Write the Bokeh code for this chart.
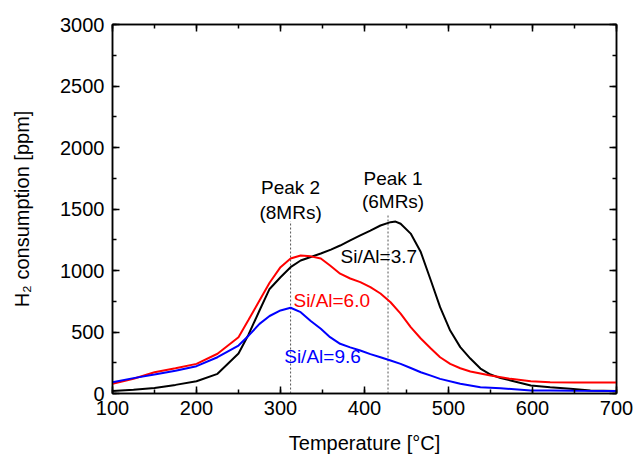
from bokeh.plotting import figure
from bokeh.models import Range1d, LinearAxis, SingleIntervalTicker, Label
from bokeh.embed import file_html
from bokeh.resources import INLINE

# Data
t_black = [100,125,150,175,200,225,250,262,275,287,300,312,324,336,348,360,371,383,395,407,419,431,437,443,455,467,479,490,502,514,526,538,550,562,574,598,621,645,669,700]
h_black = [20,30,45,70,100,160,325,480,675,850,945,1027,1081,1110,1138,1170,1203,1245,1285,1325,1366,1393,1398,1380,1300,1150,919,702,512,377,284,203,154,125,106,65,51,38,24,20]

t_red = [100,125,150,175,200,225,250,262,275,287,300,312,324,336,348,359,371,383,395,407,419,431,443,455,467,479,490,502,514,526,550,574,598,621,650,700]
h_red = [79,120,173,205,241,323,458,600,756,900,1027,1097,1122,1115,1097,1041,974,935,905,865,813,742,650,539,447,366,295,241,205,179,146,119,100,92,90,90]

t_blue = [100,125,150,175,200,225,250,262,275,287,300,312,324,336,348,359,371,383,395,407,419,431,443,455,467,479,490,514,538,562,598,621,650,700]
h_blue = [92,125,154,185,222,295,390,470,566,630,675,697,661,590,526,458,404,375,350,320,295,268,241,207,173,145,119,79,51,43,24,24,22,20]

x_ticks = [100, 200, 300, 400, 500, 600, 700]
y_ticks = [0, 500, 1000, 1500, 2000, 2500, 3000]

peak_T = [312, 428]
peak_top = [1400, 1450]

FONT = "Liberation Sans"
FS = "20px"

p = figure(width=633, height=457, output_backend="svg", toolbar_location=None,
           x_range=Range1d(100, 700), y_range=Range1d(0, 3000),
           min_border_left=112, min_border_right=17, min_border_top=24, min_border_bottom=64)
p.background_fill_color = "white"
p.border_fill_color = "white"
p.outline_line_color = "black"
p.outline_line_width = 1.5
p.xgrid.visible = False
p.ygrid.visible = False

def style(ax, labels=True):
    ax.axis_line_color = "black"
    ax.axis_line_width = 1.5
    ax.major_tick_in = 7
    ax.major_tick_out = 0
    ax.minor_tick_in = 4
    ax.minor_tick_out = 0
    ax.major_tick_line_width = 1.5
    ax.minor_tick_line_width = 1.5
    ax.major_label_text_font = FONT
    ax.major_label_text_font_size = FS
    ax.major_label_text_color = "black"
    ax.axis_label_text_font = FONT
    ax.axis_label_text_font_size = FS
    ax.axis_label_text_font_style = "normal"
    ax.axis_label_text_color = "black"

p.xaxis[0].ticker = SingleIntervalTicker(interval=100, num_minor_ticks=2)
p.yaxis[0].ticker = SingleIntervalTicker(interval=500, num_minor_ticks=2)
style(p.xaxis[0])
style(p.yaxis[0])
p.xaxis[0].axis_label = "Temperature [°C]"
p.yaxis[0].axis_label = "H₂ consumption [ppm]"
p.xaxis[0].major_label_standoff = 7
p.yaxis[0].major_label_standoff = 8
p.xaxis[0].axis_label_standoff = 14
p.yaxis[0].axis_label_standoff = 24

top = LinearAxis(ticker=SingleIntervalTicker(interval=100, num_minor_ticks=2))
right = LinearAxis(ticker=SingleIntervalTicker(interval=500, num_minor_ticks=2))
style(top)
style(right)
top.major_label_overrides = {v: "" for v in x_ticks}
right.major_label_overrides = {v: "" for v in y_ticks}
top.major_label_standoff = 0
right.major_label_standoff = 0
p.add_layout(top, "above")
p.add_layout(right, "right")

for t, h in zip(peak_T, peak_top):
    p.segment(x0=[t], y0=[0], x1=[t], y1=[h], line_color="#555555", line_width=1, line_dash="2 2")

p.line(t_black, h_black, line_color="black", line_width=2)
p.line(t_red, h_red, line_color="#ff0000", line_width=2)
p.line(t_blue, h_blue, line_color="#0000ff", line_width=2)

def lab(x, y, text, color="black"):
    p.add_layout(Label(x=x, y=y, text=text, text_color=color, text_font=FONT,
                       text_font_size="19px", text_align="center", text_baseline="middle"))

lab(417, 1114, "Si/Al=3.7", "black")
lab(361, 756, "Si/Al=6.0", "#ff0000")
lab(350, 301, "Si/Al=9.6", "#0000ff")
lab(312, 1675, "Peak 2")
lab(312, 1472, "(8MRs)")
lab(434, 1748, "Peak 1")
lab(434, 1561, "(6MRs)")

open("out.html", "w").write(file_html(p, INLINE))
